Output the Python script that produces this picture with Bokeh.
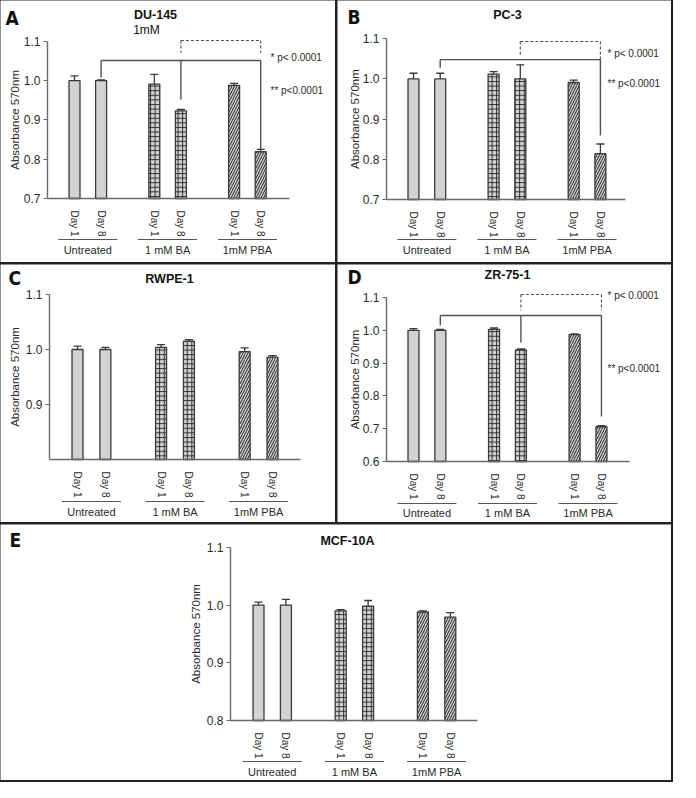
import math
from bokeh.plotting import figure
from bokeh.layouts import column, row
from bokeh.models import Range1d, FixedTicker, PrintfTickFormatter, Whisker, TeeHead, ColumnDataSource
from bokeh.core.properties import value
from bokeh.embed import file_html
from bokeh.resources import INLINE

# ---------------- data ----------------
groups = ["Untreated", "1 mM BA", "1mM PBA"]
days = ["Day 1", "Day 8"]

du145_mean = [1.000, 1.000, 0.991, 0.923, 0.988, 0.819]
du145_err = [0.012, 0.002, 0.025, 0.004, 0.005, 0.006]
pc3_mean = [1.000, 1.000, 1.012, 1.000, 0.991, 0.814]
pc3_err = [0.014, 0.014, 0.006, 0.035, 0.006, 0.024]
rwpe1_mean = [1.000, 1.000, 1.004, 1.015, 0.996, 0.986]
rwpe1_err = [0.006, 0.004, 0.005, 0.003, 0.007, 0.003]
zr751_mean = [1.000, 1.000, 1.003, 0.940, 0.987, 0.706]
zr751_err = [0.005, 0.003, 0.004, 0.003, 0.002, 0.003]
mcf10a_mean = [1.000, 1.000, 0.990, 0.998, 0.988, 0.979]
mcf10a_err = [0.005, 0.010, 0.002, 0.010, 0.002, 0.008]

du145_ticks = [0.7, 0.8, 0.9, 1.0, 1.1]
pc3_ticks = [0.7, 0.8, 0.9, 1.0, 1.1]
rwpe1_ticks = [0.9, 1.0, 1.1]
zr751_ticks = [0.6, 0.7, 0.8, 0.9, 1.0, 1.1]
mcf10a_ticks = [0.8, 0.9, 1.0, 1.1]

du145_axis = (0.7, 1.1)
pc3_axis = (0.7, 1.1)
rwpe1_axis = (0.8, 1.1)
zr751_axis = (0.6, 1.1)
mcf10a_axis = (0.8, 1.1)

p_labels = ["* p< 0.0001", "** p<0.0001"]
y_title = "Absorbance 570nm"

# significance brackets (bar refs, levels and drop ends)
du145_solid_bars = [("Untreated", "Day 8"), ("1 mM BA", "Day 8"), ("1mM PBA", "Day 8")]
du145_solid_level = 1.051
du145_solid_ends = [1.008, 0.952, 0.825]
du145_dash_bars = [("1 mM BA", "Day 8"), ("1mM PBA", "Day 8")]
du145_dash_level = 1.102
du145_dash_ends = [1.071, 1.071]

pc3_solid_bars = [("Untreated", "Day 8"), ("1mM PBA", "Day 8")]
pc3_solid_level = 1.048
pc3_solid_ends = [1.028, 0.859]
pc3_dash_bars = [("1 mM BA", "Day 8"), ("1mM PBA", "Day 8")]
pc3_dash_level = 1.093
pc3_dash_ends = [1.061, 1.048]

zr751_solid_bars = [("Untreated", "Day 8"), ("1 mM BA", "Day 8"), ("1mM PBA", "Day 8")]
zr751_solid_level = 1.045
zr751_solid_ends = [1.015, 0.963, 0.737]
zr751_dash_bars = [("1 mM BA", "Day 8"), ("1mM PBA", "Day 8")]
zr751_dash_level = 1.109
zr751_dash_ends = [1.060, 1.060]

# ---------------- styling / layout ----------------
FONT = "Liberation Sans"
LETTER_FONT = "DejaVu Sans Condensed, Roboto, Liberation Sans, sans-serif"
AXIS_COLOR = "#6a6a6a"
TEXT_COLOR = "#2a2a2a"
BAR_FILL = "#d2d2d2"
BAR_LINE = "#3a3a3a"
HATCHES = [None, "+", "/"]
HATCH_SCALES = [1, 4.6, 5.0]
HATCH_WEIGHTS = [1, 0.9, 1.0]

# pixel geometry of each panel (relative to its canvas)
geo_A = dict(W=335, H=262, axis_x=47, bar0=74, unit=26.6, x_end=289, base=198, k=393,
             ul_y=239, gl_y=249, letter=(5, 17), title=(155, 14), sub=(146, 29), ytitle_x=14,
             ptext=(270, 57, 90))
geo_B = dict(W=334, H=262, axis_x=49, bar0=76, unit=26.7, x_end=288, base=199, k=402,
             ul_y=239, gl_y=249, letter=(10, 16), title=(170, 14), ytitle_x=17,
             ptext=(270, 53, 83))
geo_C = dict(W=335, H=258, axis_x=49, bar0=77, unit=27.86, x_end=300, base=195, k=550,
             ul_y=237, gl_y=247, letter=(8, 13), title=(169, 14), ytitle_x=14)
geo_D = dict(W=334, H=258, axis_x=49, bar0=76, unit=26.85, x_end=292, base=197, k=328,
             ul_y=239, gl_y=248, letter=(10, 12), title=(170, 10), ytitle_x=17,
             ptext=(270, 31, 104))
geo_E = dict(W=671, H=256, axis_x=230, bar0=258, unit=27.4, x_end=477, base=196, k=577,
             ul_y=237, gl_y=247, letter=(9, 15), title=(347, 16), ytitle_x=195)


def make_panel(g, letter, title, means, errs, ticks, axis, subtitle=None,
               solid=None, dashed=None):
    ymin, ymax = axis
    px2x = lambda px: (px - g["bar0"]) / g["unit"]
    px2y = lambda py: ymin + (g["base"] - py) / g["k"]
    W, H = g["W"], g["H"]

    p = figure(width=W, height=H, x_range=Range1d(px2x(0), px2x(W)),
               y_range=Range1d(px2y(H), px2y(0)), output_backend="svg",
               toolbar_location=None, tools="", min_border=0)
    p.title.visible = False
    p.outline_line_color = None
    p.grid.visible = False
    p.background_fill_color = "white"
    p.border_fill_color = "white"

    # bar positions from the category structure
    cats = [(gr, d) for gr in groups for d in days]
    pos = [3 * gi + di for gi in range(len(groups)) for di in range(len(days))]
    pos_of = dict(zip(cats, pos))

    # axes
    xa = p.xaxis[0]
    xa.fixed_location = ymin
    xa.bounds = (px2x(g["axis_x"]), px2x(g["x_end"]))
    xa.ticker = FixedTicker(ticks=pos)
    xa.major_label_overrides = {pp: c[1] for pp, c in zip(pos, cats)}
    xa.major_label_orientation = "vertical"
    xa.major_tick_line_color = None
    xa.minor_tick_line_color = None
    xa.major_label_standoff = 6
    xa.axis_line_color = AXIS_COLOR
    xa.axis_line_width = 1.6
    xa.major_label_text_font = FONT
    xa.major_label_text_font_size = "10px"
    xa.major_label_text_color = TEXT_COLOR

    ya = p.yaxis[0]
    ya.fixed_location = px2x(g["axis_x"])
    ya.bounds = (ymin, ymax)
    ya.ticker = FixedTicker(ticks=ticks)
    ya.formatter = PrintfTickFormatter(format="%.1f")
    ya.minor_tick_line_color = None
    ya.major_tick_out = 4
    ya.major_tick_in = 0
    ya.major_tick_line_color = AXIS_COLOR
    ya.major_tick_line_width = 1.2
    ya.axis_line_color = AXIS_COLOR
    ya.axis_line_width = 1.4
    ya.major_label_standoff = 3
    ya.major_label_text_font = FONT
    ya.major_label_text_font_size = "12px"
    ya.major_label_text_color = TEXT_COLOR

    # bars, one call per treatment group
    bw = 11 / g["unit"]
    for gi, gr in enumerate(groups):
        xs = pos[2 * gi:2 * gi + 2]
        tops = means[2 * gi:2 * gi + 2]
        kw = dict(fill_color=BAR_FILL, line_color=BAR_LINE, line_width=1.3)
        if HATCHES[gi]:
            kw.update(hatch_pattern=HATCHES[gi], hatch_color="#1e1e1e",
                      hatch_scale=HATCH_SCALES[gi], hatch_weight=HATCH_WEIGHTS[gi])
        p.vbar(x=xs, top=tops, bottom=ymin, width=bw, **kw)

    # one-sided error bars
    src = ColumnDataSource(dict(x=pos, lo=means, hi=[m + e for m, e in zip(means, errs)]))
    p.add_layout(Whisker(source=src, base="x", lower="lo", upper="hi", dimension="height",
                         line_color=BAR_LINE, line_width=1.3, lower_head=None,
                         upper_head=TeeHead(size=8, line_color=BAR_LINE, line_width=1.3)))

    # group labels and underlines
    centers = [3 * gi + 0.5 for gi in range(len(groups))]
    half = 29.5 / g["unit"]
    uy = px2y(g["ul_y"])
    p.segment(x0=[c - half for c in centers], x1=[c + half for c in centers],
              y0=[uy] * 3, y1=[uy] * 3, line_color="#555555", line_width=1.2)
    p.text(x=centers, y=[px2y(g["gl_y"])] * 3, text=groups, text_align="center",
           text_baseline="middle", text_font=value(FONT), text_font_size="11px",
           text_color=TEXT_COLOR)

    # y axis title
    p.text(x=[px2x(g["ytitle_x"])], y=[(ymin + ymax) / 2], text=[y_title], angle=math.pi / 2,
           text_align="center", text_baseline="middle", text_font=value(FONT),
           text_font_size="11.5px", text_color=TEXT_COLOR)

    # panel letter and title
    lx, ly = g["letter"]
    p.text(x=[px2x(lx)], y=[px2y(ly)], text=[letter], text_align="left", text_baseline="middle",
           text_font=value(LETTER_FONT), text_font_style="bold", text_font_size="19px",
           text_color="#111111")
    tx, ty = g["title"]
    p.text(x=[px2x(tx)], y=[px2y(ty)], text=[title], text_align="center", text_baseline="middle",
           text_font=value(FONT), text_font_style="bold", text_font_size="12.5px",
           text_color="#111111")
    if subtitle:
        sx, sy = g["sub"]
        p.text(x=[px2x(sx)], y=[px2y(sy)], text=[subtitle], text_align="center",
               text_baseline="middle", text_font=value(FONT), text_font_size="12px",
               text_color="#111111")

    # significance brackets
    if solid:
        bars, level, ends = solid
        xs = [pos_of[b] for b in bars]
        p.segment(x0=[min(xs)], x1=[max(xs)], y0=[level], y1=[level],
                  line_color="#505050", line_width=1.4)
        p.segment(x0=xs, x1=xs, y0=[level] * len(xs), y1=ends,
                  line_color="#505050", line_width=1.4)
    if dashed:
        bars, level, ends = dashed
        xs = [pos_of[b] for b in bars]
        p.segment(x0=[min(xs)], x1=[max(xs)], y0=[level], y1=[level],
                  line_color="#505050", line_width=1.1, line_dash="3 2")
        p.segment(x0=xs, x1=xs, y0=[level] * len(xs), y1=ends,
                  line_color="#505050", line_width=1.1, line_dash="3 2")
    if "ptext" in g and solid:
        px_, py1, py2 = g["ptext"]
        p.text(x=[px2x(px_)] * 2, y=[px2y(py1), px2y(py2)], text=p_labels, text_align="left",
               text_baseline="middle", text_font=value(FONT), text_font_size="10px",
               text_color=TEXT_COLOR)
    return p


pA = make_panel(geo_A, "A", "DU-145", du145_mean, du145_err, du145_ticks, du145_axis,
                subtitle="1mM",
                solid=(du145_solid_bars, du145_solid_level, du145_solid_ends),
                dashed=(du145_dash_bars, du145_dash_level, du145_dash_ends))
pB = make_panel(geo_B, "B", "PC-3", pc3_mean, pc3_err, pc3_ticks, pc3_axis,
                solid=(pc3_solid_bars, pc3_solid_level, pc3_solid_ends),
                dashed=(pc3_dash_bars, pc3_dash_level, pc3_dash_ends))
pC = make_panel(geo_C, "C", "RWPE-1", rwpe1_mean, rwpe1_err, rwpe1_ticks, rwpe1_axis)
pD = make_panel(geo_D, "D", "ZR-75-1", zr751_mean, zr751_err, zr751_ticks, zr751_axis,
                solid=(zr751_solid_bars, zr751_solid_level, zr751_solid_ends),
                dashed=(zr751_dash_bars, zr751_dash_level, zr751_dash_ends))
pE = make_panel(geo_E, "E", "MCF-10A", mcf10a_mean, mcf10a_err, mcf10a_ticks, mcf10a_axis)

layout = column(row(pA, pB, spacing=2), row(pC, pD, spacing=2), pE, spacing=2,
                styles={"background-color": "#222222", "outline": "2px solid #222222"})

open("out.html", "w").write(file_html(layout, INLINE))
